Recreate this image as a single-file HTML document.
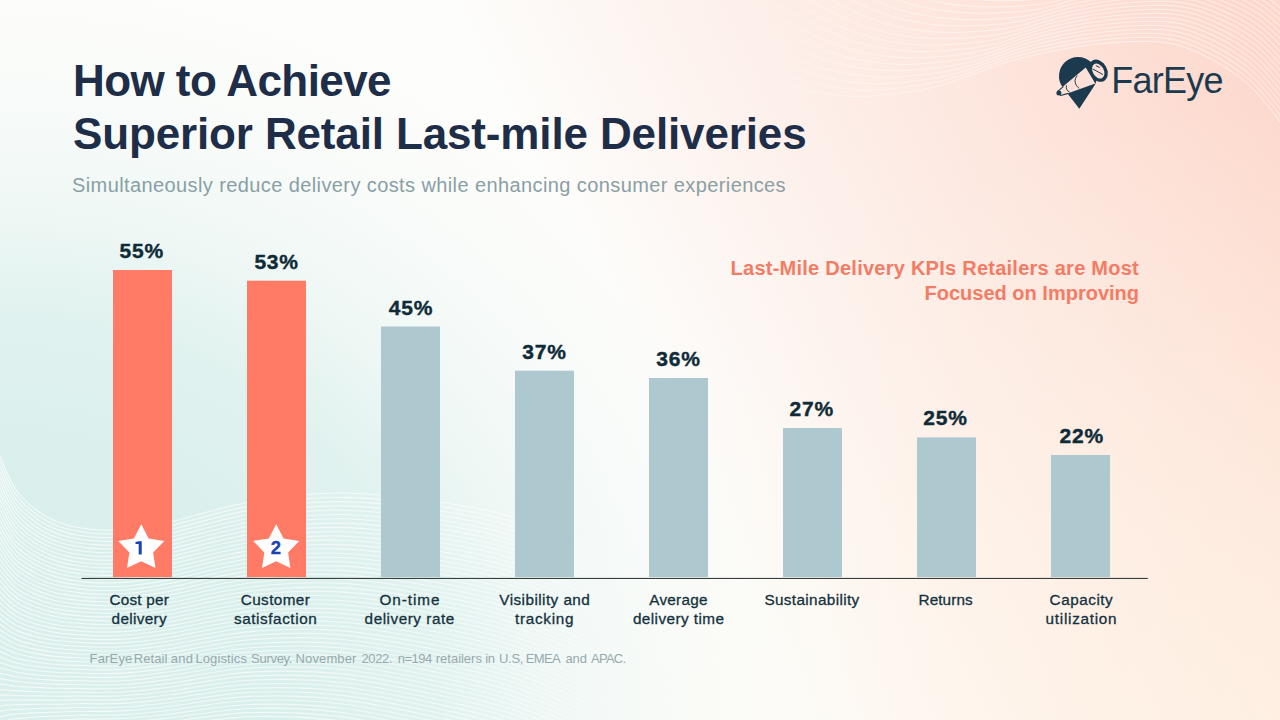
<!DOCTYPE html>
<html lang="en">
<head>
<meta charset="utf-8">
<title>How to Achieve Superior Retail Last-mile Deliveries</title>
<style>
  html, body { margin: 0; padding: 0; background: #fdfdfb; }
  body { width: 1280px; height: 720px; overflow: hidden; }
  #page {
    width: 1280px; height: 720px; overflow: hidden; position: relative;
    font-family: "Liberation Sans", sans-serif;
    background:
      radial-gradient(ellipse 700px 620px at 100% 100%, rgba(255,244,228,0.65) 0%, rgba(255,244,228,0) 100%),
      linear-gradient(63.4deg, rgba(253,216,204,0) 49.4%, rgba(253,216,204,1) 97.6%),
      radial-gradient(ellipse 800px 740px at 0% 100%, rgba(198,232,228,0.63) 0%, rgba(198,232,228,0.63) 36%, rgba(198,232,228,0.52) 55%, rgba(198,232,228,0.26) 69%, rgba(198,232,228,0.09) 84%, rgba(198,232,228,0) 100%),
      #fdfdfb;
  }
  .abs { position: absolute; white-space: nowrap; }
  .t1, .t2 { left: 73px; font-weight: bold; font-size: 44px; line-height: 50px; color: #1e2d48; }
  .t1 { top: 55.75px; letter-spacing: -0.57px; }
  .t2 { top: 109.15px; letter-spacing: -0.14px; }
  .sub { left: 72px; top: 173px; font-size: 20px; line-height: 24px; color: #8a9fa4; letter-spacing: 0.4px; }
  .kh { right: 141px; text-align: right; font-weight: bold; font-size: 20px; line-height: 25.5px; color: #f37c65; top: 255.7px; }
  .val { position: absolute; width: 120px; text-align: center; font-weight: bold; font-size: 21px; line-height: 24px; color: #0f2b38; letter-spacing: 0.8px; -webkit-text-stroke: 0.4px #0f2b38; }
  .cl { position: absolute; white-space: nowrap; font-size: 15.3px; line-height: 19px; color: #14313d; -webkit-text-stroke: 0.3px #14313d; }
  .foot { position: absolute; left: 0; top: 651.05px; font-size: 13.0px; line-height: 16px; color: #97a9ac; }
  .foot span { position: absolute; top: 0; white-space: nowrap; }
  .logo-t { left: 1111.2px; top: 60.3px; font-size: 36px; line-height: 42px; color: #1c3a4d; letter-spacing: -0.75px; }
  svg { position: absolute; left: 0; top: 0; }
</style>
</head>
<body>
<div id="page">

<svg id="waves" width="1280" height="720" viewBox="0 0 1280 720" fill="none">
<defs>
<linearGradient id="gtr" gradientUnits="userSpaceOnUse" x1="640" y1="0" x2="1280" y2="0"><stop offset="0" stop-color="#fff" stop-opacity="0"/><stop offset="0.35" stop-color="#fff" stop-opacity="0.4"/><stop offset="1" stop-color="#fff" stop-opacity="0.7"/></linearGradient>
<linearGradient id="gbl" gradientUnits="userSpaceOnUse" x1="0" y1="0" x2="720" y2="0"><stop offset="0" stop-color="#fff" stop-opacity="0.7"/><stop offset="0.65" stop-color="#fff" stop-opacity="0.6"/><stop offset="1" stop-color="#fff" stop-opacity="0"/></linearGradient>
</defs>
<g stroke="url(#gtr)" stroke-width="1">
<path d="M620 -10C633.3 -1.3 673.3 26.7 700 42C726.7 57.3 755.8 73 780 82C804.2 91 825 94.2 845 96C865 97.8 883.3 95 900 93C916.7 91 925.8 89.5 945 84C964.2 78.5 990.8 66.5 1015 60C1039.2 53.5 1065.8 48 1090 45C1114.2 42 1140.8 40.2 1160 42C1179.2 43.8 1190 48.7 1205 56C1220 63.3 1236.2 73.3 1250 86C1263.8 98.7 1281.7 124.3 1288 132"/>
<path d="M635.6 -12.2C648.4 -3.9 687 23 712.8 37.7C738.5 52.4 766.5 67.4 790 76C813.5 84.6 834 87.8 853.6 89.6C873.2 91.4 891.3 88.7 907.8 86.8C924.2 84.9 933.5 83.5 952.2 78.2C971 73 996.8 61.5 1020.3 55.2C1043.8 49 1069.8 43.7 1093.3 40.8C1116.9 38 1142.9 36.2 1161.7 38C1180.5 39.8 1191.3 44.5 1206.1 51.7C1220.9 58.8 1237 68.6 1250.7 80.9C1264.4 93.2 1282 118.2 1288.2 125.7"/>
<path d="M651.1 -14.4C663.5 -6.5 700.7 19.3 725.6 33.3C750.4 47.4 777.2 61.7 800 70C822.8 78.3 843 81.3 862.2 83.1C881.5 84.9 899.4 82.4 915.6 80.7C931.8 78.9 941.1 77.5 959.4 72.4C977.8 67.4 1002.7 56.4 1025.6 50.4C1048.4 44.5 1073.7 39.4 1096.7 36.7C1119.6 33.9 1144.9 32.2 1163.3 34C1181.8 35.8 1192.6 40.4 1207.2 47.3C1221.9 54.3 1237.8 63.8 1251.3 75.8C1264.9 87.8 1282.3 112.1 1288.4 119.3"/>
<path d="M666.7 -16.7C678.6 -9.1 714.4 15.6 738.3 29C762.2 42.4 787.9 56.1 810 64C832.1 71.9 851.9 74.9 870.8 76.7C889.7 78.4 907.4 76.2 923.3 74.5C939.3 72.8 948.8 71.5 966.7 66.7C984.6 61.9 1008.6 51.4 1030.8 45.7C1053.1 40 1077.6 35.1 1100 32.5C1122.4 29.9 1146.9 28.2 1165 30C1183.1 31.8 1193.8 36.2 1208.3 43C1222.8 49.8 1238.6 59 1252 70.7C1265.4 82.3 1282.6 105.9 1288.7 113"/>
<path d="M682.2 -18.9C693.7 -11.6 728.1 11.9 751.1 24.7C774.1 37.5 798.6 50.4 820 58C841.4 65.6 860.9 68.5 879.4 70.2C898 71.9 915.4 69.9 931.1 68.3C946.9 66.8 956.4 65.5 973.9 60.9C991.4 56.3 1014.5 46.3 1036.1 40.9C1057.7 35.5 1081.6 30.8 1103.3 28.3C1125.1 25.9 1149 24.3 1166.7 26C1184.4 27.7 1195.1 32.1 1209.4 38.7C1223.8 45.3 1239.4 54.2 1252.7 65.6C1265.9 76.9 1282.9 99.8 1288.9 106.7"/>
<path d="M697.8 -21.1C708.8 -14.2 741.9 8.1 763.9 20.3C785.9 32.5 809.3 44.8 830 52C850.7 59.2 869.9 62.1 888.1 63.8C906.2 65.5 923.4 63.6 938.9 62.2C954.4 60.7 964 59.5 981.1 55.1C998.2 50.8 1020.5 41.3 1041.4 36.1C1062.3 31 1085.5 26.5 1106.7 24.2C1127.8 21.8 1151 20.3 1168.3 22C1185.6 23.7 1196.4 27.9 1210.6 34.3C1224.7 40.7 1240.2 49.4 1253.3 60.4C1266.4 71.4 1283.1 93.7 1289.1 100.3"/>
<path d="M713.3 -23.3C723.9 -16.8 755.6 4.4 776.7 16C797.8 27.6 820 39.1 840 46C860 52.9 878.9 55.7 896.7 57.3C914.4 59 931.4 57.3 946.7 56C961.9 54.7 971.7 53.4 988.3 49.3C1005 45.2 1026.4 36.2 1046.7 31.3C1066.9 26.4 1089.4 22.2 1110 20C1130.6 17.8 1153.1 16.3 1170 18C1186.9 19.7 1197.7 23.8 1211.7 30C1225.7 36.2 1241.1 44.7 1254 55.3C1266.9 66 1283.4 87.6 1289.3 94"/>
<path d="M728.9 -25.6C739 -19.4 769.3 0.7 789.4 11.7C809.6 22.6 830.7 33.5 850 40C869.3 46.5 887.9 49.2 905.3 50.9C922.7 52.5 939.4 51.1 954.4 49.8C969.5 48.6 979.3 47.4 995.6 43.6C1011.8 39.7 1032.3 31.2 1051.9 26.6C1071.6 21.9 1093.4 17.9 1113.3 15.8C1133.3 13.7 1155.1 12.4 1171.7 14C1188.2 15.6 1198.9 19.6 1212.8 25.7C1226.6 31.7 1241.9 39.9 1254.7 50.2C1267.5 60.6 1283.7 81.4 1289.6 87.7"/>
<path d="M744.4 -27.8C754.1 -21.9 783 -3 802.2 7.3C821.5 17.6 841.4 27.8 860 34C878.6 40.2 896.9 42.8 913.9 44.4C930.9 46.1 947.4 44.8 962.2 43.7C977 42.6 986.9 41.4 1002.8 37.8C1018.6 34.1 1038.2 26.1 1057.2 21.8C1076.2 17.4 1097.3 13.6 1116.7 11.7C1136 9.7 1157.1 8.4 1173.3 10C1189.5 11.6 1200.2 15.5 1213.9 21.3C1227.6 27.2 1242.7 35.1 1255.3 45.1C1268 55.1 1284 75.3 1289.8 81.3"/>
<path d="M760 -30C769.2 -24.5 796.7 -6.7 815 3C833.3 12.7 852.1 22.2 870 28C887.9 33.8 905.8 36.4 922.5 38C939.2 39.6 955.4 38.5 970 37.5C984.6 36.5 994.6 35.4 1010 32C1025.4 28.6 1044.2 21.1 1062.5 17C1080.8 12.9 1101.2 9.3 1120 7.5C1138.8 5.7 1159.2 4.4 1175 6C1190.8 7.6 1201.5 11.3 1215 17C1228.5 22.7 1243.5 30.3 1256 40C1268.5 49.7 1284.3 69.2 1290 75"/>
<path d="M775.6 -32.2C784.3 -27.1 810.4 -10.4 827.8 -1.3C845.2 7.7 862.8 16.5 880 22C897.2 27.5 914.8 30 931.1 31.6C947.4 33.1 963.4 32.2 977.8 31.3C992.1 30.4 1002.2 29.4 1017.2 26.2C1032.2 23 1050.1 16 1067.8 12.2C1085.5 8.4 1105.2 5 1123.3 3.3C1141.5 1.6 1161.2 0.4 1176.7 2C1192.1 3.6 1202.8 7.2 1216.1 12.7C1229.4 18.1 1244.3 25.6 1256.7 34.9C1269 44.2 1284.6 63 1290.2 68.7"/>
<path d="M791.1 -34.4C799.4 -29.6 824.1 -14.1 840.6 -5.7C857 2.7 873.5 10.9 890 16C906.5 21.1 923.8 23.6 939.7 25.1C955.6 26.6 971.4 25.9 985.6 25.2C999.7 24.4 1009.9 23.4 1024.4 20.4C1039 17.5 1056 11 1073.1 7.4C1090.1 3.9 1109.1 0.7 1126.7 -0.8C1144.2 -2.4 1163.2 -3.5 1178.3 -2C1193.4 -0.5 1204.1 3 1217.2 8.3C1230.4 13.6 1245.1 20.8 1257.3 29.8C1269.5 38.8 1284.9 56.9 1290.4 62.3"/>
<path d="M806.7 -36.7C814.4 -32.2 837.8 -17.8 853.3 -10C868.9 -2.2 884.2 5.2 900 10C915.8 14.8 932.8 17.2 948.3 18.7C963.9 20.2 979.4 19.7 993.3 19C1007.2 18.3 1017.5 17.4 1031.7 14.7C1045.8 11.9 1061.9 5.9 1078.3 2.7C1094.7 -0.6 1113.1 -3.6 1130 -5C1146.9 -6.4 1165.3 -7.5 1180 -6C1194.7 -4.5 1205.3 -1.1 1218.3 4C1231.3 9.1 1245.9 16 1258 24.7C1270.1 33.3 1285.2 50.8 1290.7 56"/>
<path d="M822.2 -38.9C829.5 -34.8 851.5 -21.5 866.1 -14.3C880.7 -7.2 894.9 -0.4 910 4C925.1 8.4 941.8 10.8 956.9 12.2C972.1 13.7 987.5 13.4 1001.1 12.8C1014.8 12.3 1025.1 11.4 1038.9 8.9C1052.6 6.4 1067.9 0.9 1083.6 -2.1C1099.4 -5.1 1117 -7.9 1133.3 -9.2C1149.7 -10.5 1167.3 -11.5 1181.7 -10C1196 -8.5 1206.6 -5.3 1219.4 -0.3C1232.3 4.6 1246.8 11.2 1258.7 19.6C1270.6 27.9 1285.5 44.6 1290.9 49.7"/>
<path d="M837.8 -41.1C844.6 -37.4 865.2 -25.2 878.9 -18.7C892.6 -12.1 905.6 -6.1 920 -2C934.4 2.1 950.7 4.3 965.6 5.8C980.4 7.2 995.5 7.1 1008.9 6.7C1022.3 6.2 1032.8 5.4 1046.1 3.1C1059.4 0.9 1073.8 -4.1 1088.9 -6.9C1104 -9.6 1120.9 -12.1 1136.7 -13.3C1152.4 -14.5 1169.4 -15.4 1183.3 -14C1197.3 -12.6 1207.9 -9.4 1220.6 -4.7C1233.2 0.1 1247.6 6.4 1259.3 14.4C1271.1 22.4 1285.8 38.5 1291.1 43.3"/>
<path d="M853.3 -43.3C859.7 -39.9 878.9 -28.9 891.7 -23C904.4 -17.1 916.2 -11.7 930 -8C943.8 -4.3 959.7 -2.1 974.2 -0.7C988.6 0.7 1003.5 0.8 1016.7 0.5C1029.9 0.2 1040.4 -0.6 1053.3 -2.7C1066.2 -4.7 1079.7 -9.2 1094.2 -11.7C1108.6 -14.1 1124.9 -16.4 1140 -17.5C1155.1 -18.6 1171.4 -19.4 1185 -18C1198.6 -16.6 1209.2 -13.6 1221.7 -9C1234.2 -4.4 1248.4 1.7 1260 9.3C1271.6 17 1286.1 32.4 1291.3 37"/>
<path d="M868.9 -45.6C874.8 -42.5 892.6 -32.6 904.4 -27.3C916.3 -22.1 926.9 -17.4 940 -14C953.1 -10.6 968.7 -8.5 982.8 -7.1C996.9 -5.7 1011.5 -5.4 1024.4 -5.7C1037.4 -5.9 1048.1 -6.6 1060.6 -8.4C1073.1 -10.2 1085.6 -14.2 1099.4 -16.4C1113.2 -18.6 1128.8 -20.7 1143.3 -21.7C1157.9 -22.6 1173.4 -23.4 1186.7 -22C1199.9 -20.6 1210.4 -17.7 1222.8 -13.3C1235.1 -9 1249.2 -3.1 1260.7 4.2C1272.1 11.6 1286.4 26.3 1291.6 30.7"/>
<path d="M884.4 -47.8C889.9 -45.1 906.3 -36.3 917.2 -31.7C928.1 -27 937.6 -23 950 -20C962.4 -17 977.7 -14.9 991.4 -13.6C1005.1 -12.2 1019.5 -11.7 1032.2 -11.8C1045 -11.9 1055.7 -12.7 1067.8 -14.2C1079.9 -15.8 1091.6 -19.3 1104.7 -21.2C1117.9 -23.2 1132.7 -25 1146.7 -25.8C1160.6 -26.6 1175.5 -27.4 1188.3 -26C1201.2 -24.6 1211.7 -21.9 1223.9 -17.7C1236.1 -13.5 1250 -7.9 1261.3 -0.9C1272.6 6.1 1286.7 20.1 1291.8 24.3"/>
<path d="M900 -50C905 -47.7 920 -40 930 -36C940 -32 948.3 -28.7 960 -26C971.7 -23.3 986.7 -21.3 1000 -20C1013.3 -18.7 1027.5 -18 1040 -18C1052.5 -18 1063.3 -18.7 1075 -20C1086.7 -21.3 1097.5 -24.3 1110 -26C1122.5 -27.7 1136.7 -29.3 1150 -30C1163.3 -30.7 1177.5 -31.3 1190 -30C1202.5 -28.7 1213 -26 1225 -22C1237 -18 1250.8 -12.7 1262 -6C1273.2 0.7 1287 14 1292 18"/>
</g>
<g stroke="url(#gbl)" stroke-width="1.15">
<path d="M-6 440C-3.7 445.8 3.8 466 8 475C12.2 484 13.8 487.8 19 494C24.2 500.2 32.5 507.3 39 512C45.5 516.7 51.5 519.4 58 522C64.5 524.6 70.8 526.2 78 527.5C85.2 528.8 92.3 529.8 101 530C109.7 530.2 118.5 530.3 130 529C141.5 527.7 150 526.5 170 522C190 517.5 221.7 506.8 250 502C278.3 497.2 308.3 493 340 493C371.7 493 410 497.7 440 502C470 506.3 493.3 511.3 520 519C546.7 526.7 576.7 535.8 600 548C623.3 560.2 641.3 574.2 660 592C678.7 609.8 703.3 644.5 712 655"/>
<path d="M-6 445.8C-3.7 451.5 3.8 471.2 8 480C12.2 488.8 13.8 492.6 19 498.6C24.2 504.6 32.5 511.6 39 516.2C45.5 520.7 51.5 523.4 58 526C64.5 528.5 70.8 530 78 531.3C85.2 532.6 92.3 533.5 101 533.8C109.7 534 118.5 534.1 130 532.8C141.5 531.5 150 530.3 170 525.8C190 521.4 221.7 510.8 250 506.1C278.3 501.3 308.3 497.2 340 497.3C371.7 497.4 410 502.1 440 506.5C470 510.9 493.3 515.9 520 523.6C546.7 531.3 576.7 540.6 600 552.8C623.3 565 641.3 579.1 660 597C678.7 614.9 703.3 649.7 712 660.2"/>
<path d="M-6 451.6C-3.7 457.2 3.8 476.4 8 485C12.2 493.6 13.8 497.3 19 503.2C24.2 509.1 32.5 515.9 39 520.4C45.5 524.8 51.5 527.5 58 529.9C64.5 532.4 70.8 533.9 78 535.2C85.2 536.4 92.3 537.3 101 537.6C109.7 537.8 118.5 537.9 130 536.6C141.5 535.2 150 534.1 170 529.7C190 525.3 221.7 514.8 250 510.1C278.3 505.4 308.3 501.5 340 501.6C371.7 501.8 410 506.6 440 511C470 515.4 493.3 520.4 520 528.2C546.7 536 576.7 545.3 600 557.6C623.3 569.9 641.3 584 660 602C678.7 620 703.3 654.8 712 665.4"/>
<path d="M-6 457.4C-3.7 462.8 3.8 481.6 8 490C12.2 498.4 13.8 502 19 507.7C24.2 513.5 32.5 520.2 39 524.5C45.5 528.9 51.5 531.5 58 533.9C64.5 536.3 70.8 537.7 78 539C85.2 540.2 92.3 541.1 101 541.3C109.7 541.6 118.5 541.6 130 540.3C141.5 539 150 537.9 170 533.5C190 529.2 221.7 518.8 250 514.1C278.3 509.5 308.3 505.7 340 505.9C371.7 506.1 410 511 440 515.5C470 520 493.3 525 520 532.8C546.7 540.6 576.7 550 600 562.4C623.3 574.8 641.3 589 660 607C678.7 625 703.3 660 712 670.6"/>
<path d="M-6 463.2C-3.7 468.5 3.8 486.8 8 495C12.2 503.2 13.8 506.7 19 512.3C24.2 517.9 32.5 524.5 39 528.7C45.5 533 51.5 535.5 58 537.8C64.5 540.2 70.8 541.6 78 542.8C85.2 544 92.3 544.9 101 545.1C109.7 545.3 118.5 545.4 130 544.1C141.5 542.8 150 541.7 170 537.4C190 533 221.7 522.7 250 518.2C278.3 513.7 308.3 509.9 340 510.2C371.7 510.5 410 515.5 440 520C470 524.5 493.3 529.5 520 537.4C546.7 545.3 576.7 554.8 600 567.2C623.3 579.6 641.3 593.9 660 612C678.7 630.1 703.3 665.2 712 675.8"/>
<path d="M-6 469C-3.7 474.2 3.8 492 8 500C12.2 508 13.8 511.4 19 516.9C24.2 522.4 32.5 528.8 39 532.9C45.5 537 51.5 539.5 58 541.8C64.5 544.1 70.8 545.5 78 546.6C85.2 547.8 92.3 548.7 101 548.9C109.7 549.1 118.5 549.2 130 547.9C141.5 546.6 150 545.5 170 541.2C190 536.9 221.7 526.7 250 522.2C278.3 517.8 308.3 514.1 340 514.5C371.7 514.9 410 519.9 440 524.5C470 529.1 493.3 534.1 520 542C546.7 549.9 576.7 559.5 600 572C623.3 584.5 641.3 598.8 660 617C678.7 635.2 703.3 670.3 712 681"/>
<path d="M-6 474.8C-3.7 479.8 3.8 497.2 8 505C12.2 512.8 13.8 516.1 19 521.5C24.2 526.8 32.5 533 39 537.1C45.5 541.1 51.5 543.5 58 545.8C64.5 548 70.8 549.3 78 550.5C85.2 551.6 92.3 552.5 101 552.7C109.7 552.9 118.5 553 130 551.7C141.5 550.4 150 549.3 170 545C190 540.8 221.7 530.7 250 526.3C278.3 521.9 308.3 518.3 340 518.8C371.7 519.2 410 524.4 440 529C470 533.6 493.3 538.6 520 546.6C546.7 554.6 576.7 564.2 600 576.8C623.3 589.4 641.3 603.8 660 622C678.7 640.2 703.3 675.5 712 686.2"/>
<path d="M-6 480.6C-3.7 485.5 3.8 502.4 8 510C12.2 517.6 13.8 520.8 19 526.1C24.2 531.3 32.5 537.3 39 541.3C45.5 545.2 51.5 547.5 58 549.7C64.5 551.9 70.8 553.2 78 554.3C85.2 555.4 92.3 556.3 101 556.5C109.7 556.7 118.5 556.7 130 555.5C141.5 554.2 150 553.1 170 548.9C190 544.7 221.7 534.6 250 530.4C278.3 526.1 308.3 522.6 340 523.1C371.7 523.6 410 528.8 440 533.5C470 538.2 493.3 543.2 520 551.2C546.7 559.2 576.7 569 600 581.6C623.3 594.2 641.3 608.7 660 627C678.7 645.3 703.3 680.7 712 691.4"/>
<path d="M-6 486.4C-3.7 491.2 3.8 507.6 8 515C12.2 522.4 13.8 525.6 19 530.6C24.2 535.7 32.5 541.6 39 545.4C45.5 549.3 51.5 551.6 58 553.7C64.5 555.8 70.8 557 78 558.1C85.2 559.2 92.3 560.1 101 560.2C109.7 560.4 118.5 560.5 130 559.2C141.5 558 150 556.9 170 552.7C190 548.6 221.7 538.6 250 534.4C278.3 530.2 308.3 526.8 340 527.4C371.7 528 410 533.3 440 538C470 542.7 493.3 547.7 520 555.8C546.7 563.9 576.7 573.7 600 586.4C623.3 599.1 641.3 613.6 660 632C678.7 650.4 703.3 685.8 712 696.6"/>
<path d="M-6 492.2C-3.7 496.8 3.8 512.8 8 520C12.2 527.2 13.8 530.3 19 535.2C24.2 540.2 32.5 545.9 39 549.6C45.5 553.4 51.5 555.6 58 557.6C64.5 559.7 70.8 560.9 78 562C85.2 563 92.3 563.8 101 564C109.7 564.2 118.5 564.3 130 563C141.5 561.8 150 560.7 170 556.6C190 552.5 221.7 542.6 250 538.5C278.3 534.3 308.3 531 340 531.7C371.7 532.4 410 537.7 440 542.5C470 547.3 493.3 552.3 520 560.4C546.7 568.5 576.7 578.4 600 591.2C623.3 604 641.3 618.6 660 637C678.7 655.4 703.3 691 712 701.8"/>
<path d="M-6 498C-3.7 502.5 3.8 518 8 525C12.2 532 13.8 535 19 539.8C24.2 544.6 32.5 550.2 39 553.8C45.5 557.4 51.5 559.6 58 561.6C64.5 563.6 70.8 564.8 78 565.8C85.2 566.8 92.3 567.6 101 567.8C109.7 568 118.5 568 130 566.8C141.5 565.6 150 564.4 170 560.4C190 556.4 221.7 546.6 250 542.5C278.3 538.4 308.3 535.2 340 536C371.7 536.8 410 542.2 440 547C470 551.8 493.3 556.8 520 565C546.7 573.2 576.7 583.2 600 596C623.3 608.8 641.3 623.5 660 642C678.7 660.5 703.3 696.2 712 707"/>
<path d="M-6 503.8C-3.7 508.2 3.8 523.2 8 530C12.2 536.8 13.8 539.7 19 544.4C24.2 549 32.5 554.5 39 558C45.5 561.5 51.5 563.6 58 565.6C64.5 567.5 70.8 568.6 78 569.6C85.2 570.6 92.3 571.4 101 571.6C109.7 571.7 118.5 571.8 130 570.6C141.5 569.4 150 568.2 170 564.2C190 560.2 221.7 550.5 250 546.5C278.3 542.6 308.3 539.5 340 540.3C371.7 541.1 410 546.6 440 551.5C470 556.4 493.3 561.4 520 569.6C546.7 577.8 576.7 587.9 600 600.8C623.3 613.7 641.3 628.4 660 647C678.7 665.6 703.3 701.3 712 712.2"/>
<path d="M-6 509.6C-3.7 513.8 3.8 528.4 8 535C12.2 541.6 13.8 544.4 19 549C24.2 553.5 32.5 558.7 39 562.2C45.5 565.6 51.5 567.6 58 569.5C64.5 571.4 70.8 572.5 78 573.5C85.2 574.4 92.3 575.2 101 575.4C109.7 575.5 118.5 575.6 130 574.4C141.5 573.1 150 572 170 568.1C190 564.1 221.7 554.5 250 550.6C278.3 546.7 308.3 543.7 340 544.6C371.7 545.5 410 551.1 440 556C470 560.9 493.3 565.9 520 574.2C546.7 582.5 576.7 592.6 600 605.6C623.3 618.6 641.3 633.4 660 652C678.7 670.6 703.3 706.5 712 717.4"/>
<path d="M-6 515.4C-3.7 519.5 3.8 533.6 8 540C12.2 546.4 13.8 549.1 19 553.5C24.2 557.9 32.5 563 39 566.3C45.5 569.7 51.5 571.7 58 573.5C64.5 575.3 70.8 576.3 78 577.3C85.2 578.2 92.3 579 101 579.1C109.7 579.3 118.5 579.3 130 578.1C141.5 576.9 150 575.8 170 571.9C190 568 221.7 558.5 250 554.6C278.3 550.8 308.3 547.9 340 548.9C371.7 549.9 410 555.5 440 560.5C470 565.5 493.3 570.5 520 578.8C546.7 587.1 576.7 597.4 600 610.4C623.3 623.4 641.3 638.3 660 657C678.7 675.7 703.3 711.7 712 722.6"/>
<path d="M-6 521.2C-3.7 525.2 3.8 538.8 8 545C12.2 551.2 13.8 553.9 19 558.1C24.2 562.4 32.5 567.3 39 570.5C45.5 573.7 51.5 575.7 58 577.4C64.5 579.2 70.8 580.2 78 581.1C85.2 582 92.3 582.8 101 582.9C109.7 583.1 118.5 583.1 130 581.9C141.5 580.7 150 579.6 170 575.8C190 571.9 221.7 562.5 250 558.7C278.3 554.9 308.3 552.2 340 553.2C371.7 554.2 410 560 440 565C470 570 493.3 575 520 583.4C546.7 591.8 576.7 602.1 600 615.2C623.3 628.3 641.3 643.2 660 662C678.7 680.8 703.3 716.8 712 727.8"/>
<path d="M-6 527C-3.7 530.8 3.8 544 8 550C12.2 556 13.8 558.6 19 562.7C24.2 566.8 32.5 571.6 39 574.7C45.5 577.8 51.5 579.7 58 581.4C64.5 583.1 70.8 584.1 78 585C85.2 585.8 92.3 586.6 101 586.7C109.7 586.8 118.5 586.9 130 585.7C141.5 584.5 150 583.4 170 579.6C190 575.8 221.7 566.4 250 562.8C278.3 559.1 308.3 556.4 340 557.5C371.7 558.6 410 564.4 440 569.5C470 574.6 493.3 579.6 520 588C546.7 596.4 576.7 606.8 600 620C623.3 633.2 641.3 648.2 660 667C678.7 685.8 703.3 722 712 733"/>
<path d="M-6 532.8C-3.7 536.5 3.8 549.3 8 555C12.2 560.7 13.8 563.3 19 567.3C24.2 571.3 32.5 575.9 39 578.9C45.5 581.9 51.5 583.7 58 585.4C64.5 587 70.8 587.9 78 588.8C85.2 589.6 92.3 590.4 101 590.5C109.7 590.6 118.5 590.7 130 589.5C141.5 588.3 150 587.2 170 583.4C190 579.7 221.7 570.4 250 566.8C278.3 563.2 308.3 560.6 340 561.8C371.7 563 410 568.9 440 574C470 579.1 493.3 584.1 520 592.6C546.7 601.1 576.7 611.6 600 624.8C623.3 638 641.3 653.1 660 672C678.7 690.9 703.3 727.2 712 738.2"/>
<path d="M-6 538.6C-3.7 542.2 3.8 554.5 8 560C12.2 565.5 13.8 568 19 571.9C24.2 575.7 32.5 580.1 39 583.1C45.5 586 51.5 587.7 58 589.3C64.5 590.9 70.8 591.8 78 592.6C85.2 593.4 92.3 594.2 101 594.3C109.7 594.4 118.5 594.4 130 593.3C141.5 592.1 150 591 170 587.3C190 583.5 221.7 574.4 250 570.9C278.3 567.3 308.3 564.8 340 566.1C371.7 567.4 410 573.3 440 578.5C470 583.7 493.3 588.7 520 597.2C546.7 605.7 576.7 616.3 600 629.6C623.3 642.9 641.3 658 660 677C678.7 696 703.3 732.3 712 743.4"/>
<path d="M-6 544.4C-3.7 547.8 3.8 559.7 8 565C12.2 570.3 13.8 572.7 19 576.4C24.2 580.1 32.5 584.4 39 587.2C45.5 590 51.5 591.7 58 593.3C64.5 594.8 70.8 595.6 78 596.4C85.2 597.2 92.3 597.9 101 598C109.7 598.1 118.5 598.2 130 597C141.5 595.9 150 594.8 170 591.1C190 587.4 221.7 578.4 250 574.9C278.3 571.4 308.3 569 340 570.4C371.7 571.8 410 577.8 440 583C470 588.2 493.3 593.2 520 601.8C546.7 610.4 576.7 621 600 634.4C623.3 647.8 641.3 663 660 682C678.7 701 703.3 737.5 712 748.6"/>
<path d="M-6 550.2C-3.7 553.5 3.8 564.9 8 570C12.2 575.1 13.8 577.5 19 581C24.2 584.6 32.5 588.7 39 591.4C45.5 594.1 51.5 595.8 58 597.2C64.5 598.7 70.8 599.5 78 600.3C85.2 601 92.3 601.7 101 601.8C109.7 601.9 118.5 602 130 600.8C141.5 599.7 150 598.6 170 595C190 591.3 221.7 582.3 250 579C278.3 575.6 308.3 573.3 340 574.7C371.7 576.1 410 582.2 440 587.5C470 592.8 493.3 597.8 520 606.4C546.7 615 576.7 625.8 600 639.2C623.3 652.6 641.3 667.9 660 687C678.7 706.1 703.3 742.7 712 753.8"/>
<path d="M-6 556C-3.7 559.2 3.8 570.1 8 575C12.2 579.9 13.8 582.2 19 585.6C24.2 589 32.5 593 39 595.6C45.5 598.2 51.5 599.8 58 601.2C64.5 602.6 70.8 603.4 78 604.1C85.2 604.8 92.3 605.5 101 605.6C109.7 605.7 118.5 605.7 130 604.6C141.5 603.5 150 602.4 170 598.8C190 595.2 221.7 586.3 250 583C278.3 579.7 308.3 577.5 340 579C371.7 580.5 410 586.7 440 592C470 597.3 493.3 602.3 520 611C546.7 619.7 576.7 630.5 600 644C623.3 657.5 641.3 672.8 660 692C678.7 711.2 703.3 747.8 712 759"/>
<path d="M-6 561.8C-3.7 564.8 3.8 575.3 8 580C12.2 584.7 13.8 586.9 19 590.2C24.2 593.5 32.5 597.3 39 599.8C45.5 602.3 51.5 603.8 58 605.2C64.5 606.5 70.8 607.2 78 607.9C85.2 608.6 92.3 609.3 101 609.4C109.7 609.5 118.5 609.5 130 608.4C141.5 607.3 150 606.2 170 602.6C190 599.1 221.7 590.3 250 587C278.3 583.8 308.3 581.7 340 583.3C371.7 584.9 410 591.1 440 596.5C470 601.9 493.3 606.9 520 615.6C546.7 624.3 576.7 635.2 600 648.8C623.3 662.4 641.3 677.8 660 697C678.7 716.2 703.3 753 712 764.2"/>
<path d="M-6 567.6C-3.7 570.5 3.8 580.5 8 585C12.2 589.5 13.8 591.6 19 594.8C24.2 597.9 32.5 601.6 39 604C45.5 606.4 51.5 607.8 58 609.1C64.5 610.4 70.8 611.1 78 611.8C85.2 612.4 92.3 613.1 101 613.2C109.7 613.2 118.5 613.3 130 612.2C141.5 611 150 610 170 606.5C190 603 221.7 594.2 250 591.1C278.3 588 308.3 586 340 587.6C371.7 589.2 410 595.6 440 601C470 606.4 493.3 611.4 520 620.2C546.7 629 576.7 640 600 653.6C623.3 667.2 641.3 682.7 660 702C678.7 721.3 703.3 758.2 712 769.4"/>
<path d="M-6 573.4C-3.7 576.2 3.8 585.7 8 590C12.2 594.3 13.8 596.3 19 599.3C24.2 602.4 32.5 605.9 39 608.1C45.5 610.4 51.5 611.8 58 613.1C64.5 614.3 70.8 614.9 78 615.6C85.2 616.2 92.3 616.9 101 616.9C109.7 617 118.5 617 130 615.9C141.5 614.8 150 613.8 170 610.3C190 606.9 221.7 598.2 250 595.1C278.3 592.1 308.3 590.2 340 591.9C371.7 593.6 410 600 440 605.5C470 611 493.3 616 520 624.8C546.7 633.6 576.7 644.7 600 658.4C623.3 672.1 641.3 687.6 660 707C678.7 726.4 703.3 763.3 712 774.6"/>
<path d="M-6 579.2C-3.7 581.8 3.8 590.9 8 595C12.2 599.1 13.8 601 19 603.9C24.2 606.8 32.5 610.1 39 612.3C45.5 614.5 51.5 615.9 58 617C64.5 618.2 70.8 618.8 78 619.4C85.2 620 92.3 620.7 101 620.7C109.7 620.8 118.5 620.8 130 619.7C141.5 618.6 150 617.6 170 614.2C190 610.7 221.7 602.2 250 599.2C278.3 596.2 308.3 594.4 340 596.2C371.7 598 410 604.5 440 610C470 615.5 493.3 620.5 520 629.4C546.7 638.3 576.7 649.4 600 663.2C623.3 677 641.3 692.6 660 712C678.7 731.4 703.3 768.5 712 779.8"/>
<path d="M-6 585C-3.7 587.5 3.8 596.1 8 600C12.2 603.9 13.8 605.8 19 608.5C24.2 611.2 32.5 614.4 39 616.5C45.5 618.6 51.5 619.9 58 621C64.5 622.1 70.8 622.7 78 623.2C85.2 623.8 92.3 624.5 101 624.5C109.7 624.5 118.5 624.6 130 623.5C141.5 622.4 150 621.4 170 618C190 614.6 221.7 606.2 250 603.2C278.3 600.3 308.3 598.6 340 600.5C371.7 602.4 410 608.9 440 614.5C470 620.1 493.3 625.1 520 634C546.7 642.9 576.7 654.2 600 668C623.3 681.8 641.3 697.5 660 717C678.7 736.5 703.3 773.7 712 785"/>
<path d="M-6 590.8C-3.7 593.2 3.8 601.3 8 605C12.2 608.7 13.8 610.5 19 613.1C24.2 615.7 32.5 618.7 39 620.7C45.5 622.7 51.5 623.9 58 625C64.5 626 70.8 626.5 78 627.1C85.2 627.6 92.3 628.2 101 628.3C109.7 628.3 118.5 628.4 130 627.3C141.5 626.2 150 625.2 170 621.8C190 618.5 221.7 610.1 250 607.3C278.3 604.5 308.3 602.8 340 604.8C371.7 606.8 410 613.4 440 619C470 624.6 493.3 629.6 520 638.6C546.7 647.6 576.7 658.9 600 672.8C623.3 686.7 641.3 702.4 660 722C678.7 741.6 703.3 778.8 712 790.2"/>
<path d="M-6 596.6C-3.7 598.8 3.8 606.5 8 610C12.2 613.5 13.8 615.2 19 617.7C24.2 620.1 32.5 623 39 624.9C45.5 626.7 51.5 627.9 58 628.9C64.5 629.9 70.8 630.4 78 630.9C85.2 631.4 92.3 632 101 632.1C109.7 632.1 118.5 632.1 130 631.1C141.5 630 150 629 170 625.7C190 622.4 221.7 614.1 250 611.4C278.3 608.6 308.3 607.1 340 609.1C371.7 611.1 410 617.8 440 623.5C470 629.2 493.3 634.2 520 643.2C546.7 652.2 576.7 663.6 600 677.6C623.3 691.6 641.3 707.4 660 727C678.7 746.6 703.3 784 712 795.4"/>
<path d="M-6 602.4C-3.7 604.5 3.8 611.7 8 615C12.2 618.3 13.8 619.9 19 622.2C24.2 624.6 32.5 627.3 39 629C45.5 630.8 51.5 631.9 58 632.9C64.5 633.8 70.8 634.2 78 634.7C85.2 635.2 92.3 635.8 101 635.8C109.7 635.9 118.5 635.9 130 634.8C141.5 633.8 150 632.8 170 629.5C190 626.3 221.7 618.1 250 615.4C278.3 612.7 308.3 611.3 340 613.4C371.7 615.5 410 622.3 440 628C470 633.7 493.3 638.7 520 647.8C546.7 656.9 576.7 668.4 600 682.4C623.3 696.4 641.3 712.3 660 732C678.7 751.7 703.3 789.2 712 800.6"/>
<path d="M-6 608.2C-3.7 610.2 3.8 616.9 8 620C12.2 623.1 13.8 624.6 19 626.8C24.2 629 32.5 631.5 39 633.2C45.5 634.9 51.5 635.9 58 636.8C64.5 637.7 70.8 638.1 78 638.6C85.2 639 92.3 639.6 101 639.6C109.7 639.6 118.5 639.7 130 638.6C141.5 637.6 150 636.6 170 633.4C190 630.2 221.7 622.1 250 619.5C278.3 616.8 308.3 615.5 340 617.7C371.7 619.9 410 626.7 440 632.5C470 638.3 493.3 643.3 520 652.4C546.7 661.5 576.7 673.1 600 687.2C623.3 701.3 641.3 717.2 660 737C678.7 756.8 703.3 794.3 712 805.8"/>
<path d="M-6 614C-3.7 615.8 3.8 622.1 8 625C12.2 627.9 13.8 629.3 19 631.4C24.2 633.5 32.5 635.8 39 637.4C45.5 639 51.5 640 58 640.8C64.5 641.6 70.8 642 78 642.4C85.2 642.8 92.3 643.4 101 643.4C109.7 643.4 118.5 643.4 130 642.4C141.5 641.4 150 640.4 170 637.2C190 634.1 221.7 626 250 623.5C278.3 621 308.3 619.8 340 622C371.7 624.2 410 631.2 440 637C470 642.8 493.3 647.8 520 657C546.7 666.2 576.7 677.8 600 692C623.3 706.2 641.3 722.2 660 742C678.7 761.8 703.3 799.5 712 811"/>
<path d="M-6 619.8C-3.7 621.5 3.8 627.3 8 630C12.2 632.7 13.8 634.1 19 636C24.2 637.9 32.5 640.1 39 641.6C45.5 643 51.5 644 58 644.8C64.5 645.5 70.8 645.8 78 646.2C85.2 646.6 92.3 647.2 101 647.2C109.7 647.2 118.5 647.2 130 646.2C141.5 645.2 150 644.1 170 641C190 637.9 221.7 630 250 627.5C278.3 625.1 308.3 624 340 626.3C371.7 628.6 410 635.6 440 641.5C470 647.4 493.3 652.4 520 661.6C546.7 670.8 576.7 682.6 600 696.8C623.3 711 641.3 727.1 660 747C678.7 766.9 703.3 804.7 712 816.2"/>
<path d="M-6 625.6C-3.7 627.2 3.8 632.5 8 635C12.2 637.5 13.8 638.8 19 640.6C24.2 642.4 32.5 644.4 39 645.8C45.5 647.1 51.5 648 58 648.7C64.5 649.4 70.8 649.7 78 650.1C85.2 650.4 92.3 651 101 651C109.7 650.9 118.5 651 130 650C141.5 648.9 150 647.9 170 644.9C190 641.8 221.7 634 250 631.6C278.3 629.2 308.3 628.2 340 630.6C371.7 633 410 640.1 440 646C470 651.9 493.3 656.9 520 666.2C546.7 675.5 576.7 687.3 600 701.6C623.3 715.9 641.3 732 660 752C678.7 772 703.3 809.8 712 821.4"/>
<path d="M-6 631.4C-3.7 632.8 3.8 637.7 8 640C12.2 642.3 13.8 643.5 19 645.1C24.2 646.8 32.5 648.7 39 649.9C45.5 651.2 51.5 652 58 652.7C64.5 653.3 70.8 653.5 78 653.9C85.2 654.2 92.3 654.8 101 654.7C109.7 654.7 118.5 654.7 130 653.7C141.5 652.7 150 651.7 170 648.7C190 645.7 221.7 638 250 635.6C278.3 633.3 308.3 632.4 340 634.9C371.7 637.4 410 644.5 440 650.5C470 656.5 493.3 661.5 520 670.8C546.7 680.1 576.7 692 600 706.4C623.3 720.8 641.3 737 660 757C678.7 777 703.3 815 712 826.6"/>
<path d="M-6 637.2C-3.7 638.5 3.8 642.9 8 645C12.2 647.1 13.8 648.2 19 649.7C24.2 651.2 32.5 653 39 654.1C45.5 655.3 51.5 656 58 656.6C64.5 657.2 70.8 657.4 78 657.7C85.2 658 92.3 658.6 101 658.5C109.7 658.5 118.5 658.5 130 657.5C141.5 656.5 150 655.5 170 652.6C190 649.6 221.7 641.9 250 639.7C278.3 637.5 308.3 636.7 340 639.2C371.7 641.8 410 649 440 655C470 661 493.3 666 520 675.4C546.7 684.8 576.7 696.8 600 711.2C623.3 725.6 641.3 741.9 660 762C678.7 782.1 703.3 820.2 712 831.8"/>
<path d="M-6 643C-3.7 644.2 3.8 648.1 8 650C12.2 651.9 13.8 652.9 19 654.3C24.2 655.7 32.5 657.2 39 658.3C45.5 659.3 51.5 660.1 58 660.6C64.5 661.1 70.8 661.3 78 661.5C85.2 661.8 92.3 662.3 101 662.3C109.7 662.3 118.5 662.3 130 661.3C141.5 660.3 150 659.3 170 656.4C190 653.5 221.7 645.9 250 643.8C278.3 641.6 308.3 640.9 340 643.5C371.7 646.1 410 653.4 440 659.5C470 665.6 493.3 670.6 520 680C546.7 689.4 576.7 701.5 600 716C623.3 730.5 641.3 746.8 660 767C678.7 787.2 703.3 825.3 712 837"/>
<path d="M-6 648.8C-3.7 649.8 3.8 653.3 8 655C12.2 656.7 13.8 657.6 19 658.9C24.2 660.1 32.5 661.5 39 662.5C45.5 663.4 51.5 664.1 58 664.6C64.5 665 70.8 665.1 78 665.4C85.2 665.6 92.3 666.1 101 666.1C109.7 666 118.5 666.1 130 665.1C141.5 664.1 150 663.1 170 660.2C190 657.4 221.7 649.9 250 647.8C278.3 645.7 308.3 645.1 340 647.8C371.7 650.5 410 657.9 440 664C470 670.1 493.3 675.1 520 684.6C546.7 694.1 576.7 706.2 600 720.8C623.3 735.4 641.3 751.8 660 772C678.7 792.2 703.3 830.5 712 842.2"/>
<path d="M-6 654.6C-3.7 655.5 3.8 658.5 8 660C12.2 661.5 13.8 662.4 19 663.5C24.2 664.6 32.5 665.8 39 666.7C45.5 667.5 51.5 668.1 58 668.5C64.5 668.9 70.8 669 78 669.2C85.2 669.4 92.3 669.9 101 669.9C109.7 669.8 118.5 669.8 130 668.9C141.5 667.9 150 666.9 170 664.1C190 661.2 221.7 653.8 250 651.9C278.3 649.9 308.3 649.3 340 652.1C371.7 654.9 410 662.3 440 668.5C470 674.7 493.3 679.7 520 689.2C546.7 698.7 576.7 711 600 725.6C623.3 740.2 641.3 756.7 660 777C678.7 797.3 703.3 835.7 712 847.4"/>
<path d="M-6 660.4C-3.7 661.2 3.8 663.7 8 665C12.2 666.3 13.8 667.1 19 668C24.2 669 32.5 670.1 39 670.8C45.5 671.6 51.5 672.1 58 672.5C64.5 672.8 70.8 672.8 78 673C85.2 673.2 92.3 673.7 101 673.6C109.7 673.6 118.5 673.6 130 672.6C141.5 671.7 150 670.7 170 667.9C190 665.1 221.7 657.8 250 655.9C278.3 654 308.3 653.5 340 656.4C371.7 659.2 410 666.8 440 673C470 679.2 493.3 684.2 520 693.8C546.7 703.4 576.7 715.7 600 730.4C623.3 745.1 641.3 761.6 660 782C678.7 802.4 703.3 840.8 712 852.6"/>
<path d="M-6 666.2C-3.7 666.8 3.8 668.9 8 670C12.2 671.1 13.8 671.8 19 672.6C24.2 673.5 32.5 674.4 39 675C45.5 675.7 51.5 676.1 58 676.4C64.5 676.7 70.8 676.7 78 676.9C85.2 677 92.3 677.5 101 677.4C109.7 677.3 118.5 677.4 130 676.4C141.5 675.5 150 674.5 170 671.8C190 669 221.7 661.8 250 660C278.3 658.1 308.3 657.8 340 660.7C371.7 663.6 410 671.2 440 677.5C470 683.8 493.3 688.8 520 698.4C546.7 708 576.7 720.4 600 735.2C623.3 750 641.3 766.6 660 787C678.7 807.4 703.3 846 712 857.8"/>
<path d="M-6 672C-3.7 672.5 3.8 674.1 8 675C12.2 675.9 13.8 676.5 19 677.2C24.2 677.9 32.5 678.7 39 679.2C45.5 679.7 51.5 680.1 58 680.4C64.5 680.6 70.8 680.6 78 680.7C85.2 680.8 92.3 681.3 101 681.2C109.7 681.1 118.5 681.1 130 680.2C141.5 679.3 150 678.3 170 675.6C190 672.9 221.7 665.8 250 664C278.3 662.2 308.3 662 340 665C371.7 668 410 675.7 440 682C470 688.3 493.3 693.3 520 703C546.7 712.7 576.7 725.2 600 740C623.3 754.8 641.3 771.5 660 792C678.7 812.5 703.3 851.2 712 863"/>
<path d="M-6 677.8C-3.7 678.2 3.8 679.3 8 680C12.2 680.7 13.8 681.2 19 681.8C24.2 682.3 32.5 683 39 683.4C45.5 683.8 51.5 684.2 58 684.4C64.5 684.6 70.8 684.4 78 684.5C85.2 684.6 92.3 685.1 101 685C109.7 684.9 118.5 684.9 130 684C141.5 683.1 150 682.1 170 679.4C190 676.8 221.7 669.7 250 668C278.3 666.4 308.3 666.2 340 669.3C371.7 672.4 410 680.1 440 686.5C470 692.9 493.3 697.9 520 707.6C546.7 717.3 576.7 729.9 600 744.8C623.3 759.7 641.3 776.4 660 797C678.7 817.6 703.3 856.3 712 868.2"/>
<path d="M-6 683.6C-3.7 683.8 3.8 684.5 8 685C12.2 685.5 13.8 685.9 19 686.4C24.2 686.8 32.5 687.2 39 687.6C45.5 687.9 51.5 688.2 58 688.3C64.5 688.5 70.8 688.3 78 688.4C85.2 688.4 92.3 688.9 101 688.8C109.7 688.7 118.5 688.7 130 687.8C141.5 686.8 150 685.9 170 683.3C190 680.7 221.7 673.7 250 672.1C278.3 670.5 308.3 670.5 340 673.6C371.7 676.8 410 684.6 440 691C470 697.4 493.3 702.4 520 712.2C546.7 722 576.7 734.6 600 749.6C623.3 764.6 641.3 781.4 660 802C678.7 822.6 703.3 861.5 712 873.4"/>
<path d="M-6 689.4C-3.7 689.5 3.8 689.7 8 690C12.2 690.3 13.8 690.7 19 690.9C24.2 691.2 32.5 691.5 39 691.7C45.5 692 51.5 692.2 58 692.3C64.5 692.4 70.8 692.1 78 692.2C85.2 692.2 92.3 692.6 101 692.5C109.7 692.4 118.5 692.4 130 691.5C141.5 690.6 150 689.7 170 687.1C190 684.6 221.7 677.7 250 676.1C278.3 674.6 308.3 674.7 340 677.9C371.7 681.1 410 689 440 695.5C470 702 493.3 707 520 716.8C546.7 726.6 576.7 739.4 600 754.4C623.3 769.4 641.3 786.3 660 807C678.7 827.7 703.3 866.7 712 878.6"/>
<path d="M-6 695.2C-3.7 695.2 3.8 694.9 8 695C12.2 695.1 13.8 695.4 19 695.5C24.2 695.7 32.5 695.8 39 695.9C45.5 696 51.5 696.2 58 696.2C64.5 696.3 70.8 696 78 696C85.2 696 92.3 696.4 101 696.3C109.7 696.2 118.5 696.2 130 695.3C141.5 694.4 150 693.5 170 691C190 688.4 221.7 681.7 250 680.2C278.3 678.7 308.3 678.9 340 682.2C371.7 685.5 410 693.5 440 700C470 706.5 493.3 711.5 520 721.4C546.7 731.3 576.7 744.1 600 759.2C623.3 774.3 641.3 791.2 660 812C678.7 832.8 703.3 871.8 712 883.8"/>
<path d="M-6 701C-3.7 700.8 3.8 700.1 8 700C12.2 699.9 13.8 700.1 19 700.1C24.2 700.1 32.5 700.1 39 700.1C45.5 700.1 51.5 700.2 58 700.2C64.5 700.2 70.8 699.9 78 699.9C85.2 699.8 92.3 700.2 101 700.1C109.7 700 118.5 700 130 699.1C141.5 698.2 150 697.3 170 694.8C190 692.3 221.7 685.6 250 684.2C278.3 682.9 308.3 683.1 340 686.5C371.7 689.9 410 697.9 440 704.5C470 711.1 493.3 716.1 520 726C546.7 735.9 576.7 748.8 600 764C623.3 779.2 641.3 796.2 660 817C678.7 837.8 703.3 877 712 889"/>
<path d="M-6 706.8C-3.7 706.5 3.8 705.4 8 705C12.2 704.6 13.8 704.8 19 704.7C24.2 704.6 32.5 704.4 39 704.3C45.5 704.2 51.5 704.3 58 704.2C64.5 704.1 70.8 703.7 78 703.7C85.2 703.6 92.3 704 101 703.9C109.7 703.7 118.5 703.8 130 702.9C141.5 702 150 701.1 170 698.6C190 696.2 221.7 689.6 250 688.3C278.3 687 308.3 687.3 340 690.8C371.7 694.2 410 702.4 440 709C470 715.6 493.3 720.6 520 730.6C546.7 740.6 576.7 753.6 600 768.8C623.3 784 641.3 801.1 660 822C678.7 842.9 703.3 882.2 712 894.2"/>
<path d="M-6 712.6C-3.7 712.2 3.8 710.6 8 710C12.2 709.4 13.8 709.5 19 709.3C24.2 709 32.5 708.7 39 708.5C45.5 708.3 51.5 708.3 58 708.1C64.5 708 70.8 707.6 78 707.5C85.2 707.4 92.3 707.8 101 707.7C109.7 707.5 118.5 707.5 130 706.7C141.5 705.8 150 704.9 170 702.5C190 700.1 221.7 693.6 250 692.4C278.3 691.1 308.3 691.6 340 695.1C371.7 698.6 410 706.8 440 713.5C470 720.2 493.3 725.2 520 735.2C546.7 745.2 576.7 758.3 600 773.6C623.3 788.9 641.3 806 660 827C678.7 848 703.3 887.3 712 899.4"/>
<path d="M-6 718.4C-3.7 717.8 3.8 715.8 8 715C12.2 714.2 13.8 714.2 19 713.8C24.2 713.4 32.5 712.9 39 712.6C45.5 712.3 51.5 712.3 58 712.1C64.5 711.9 70.8 711.4 78 711.3C85.2 711.2 92.3 711.6 101 711.4C109.7 711.3 118.5 711.3 130 710.4C141.5 709.6 150 708.7 170 706.3C190 704 221.7 697.6 250 696.4C278.3 695.2 308.3 695.8 340 699.4C371.7 703 410 711.3 440 718C470 724.7 493.3 729.7 520 739.8C546.7 749.9 576.7 763 600 778.4C623.3 793.8 641.3 811 660 832C678.7 853 703.3 892.5 712 904.6"/>
<path d="M-6 724.2C-3.7 723.5 3.8 721 8 720C12.2 719 13.8 719 19 718.4C24.2 717.9 32.5 717.2 39 716.8C45.5 716.4 51.5 716.3 58 716C64.5 715.8 70.8 715.3 78 715.2C85.2 715 92.3 715.4 101 715.2C109.7 715.1 118.5 715.1 130 714.2C141.5 713.4 150 712.5 170 710.2C190 707.9 221.7 701.5 250 700.5C278.3 699.4 308.3 700 340 703.7C371.7 707.4 410 715.7 440 722.5C470 729.3 493.3 734.3 520 744.4C546.7 754.5 576.7 767.8 600 783.2C623.3 798.6 641.3 815.9 660 837C678.7 858.1 703.3 897.7 712 909.8"/>
<path d="M-6 730C-3.7 729.2 3.8 726.2 8 725C12.2 723.8 13.8 723.7 19 723C24.2 722.3 32.5 721.5 39 721C45.5 720.5 51.5 720.3 58 720C64.5 719.7 70.8 719.2 78 719C85.2 718.8 92.3 719.2 101 719C109.7 718.8 118.5 718.8 130 718C141.5 717.2 150 716.2 170 714C190 711.8 221.7 705.5 250 704.5C278.3 703.5 308.3 704.2 340 708C371.7 711.8 410 720.2 440 727C470 733.8 493.3 738.8 520 749C546.7 759.2 576.7 772.5 600 788C623.3 803.5 641.3 820.8 660 842C678.7 863.2 703.3 902.8 712 915"/>
<path d="M-6 735.8C-3.7 734.8 3.8 731.4 8 730C12.2 728.6 13.8 728.4 19 727.6C24.2 726.8 32.5 725.8 39 725.2C45.5 724.6 51.5 724.4 58 724C64.5 723.6 70.8 723 78 722.8C85.2 722.6 92.3 723 101 722.8C109.7 722.6 118.5 722.6 130 721.8C141.5 721 150 720 170 717.8C190 715.6 221.7 709.5 250 708.5C278.3 707.6 308.3 708.5 340 712.3C371.7 716.1 410 724.6 440 731.5C470 738.4 493.3 743.4 520 753.6C546.7 763.8 576.7 777.2 600 792.8C623.3 808.4 641.3 825.8 660 847C678.7 868.2 703.3 908 712 920.2"/>
<path d="M-6 741.6C-3.7 740.5 3.8 736.6 8 735C12.2 733.4 13.8 733.1 19 732.2C24.2 731.2 32.5 730.1 39 729.4C45.5 728.7 51.5 728.4 58 727.9C64.5 727.5 70.8 726.9 78 726.7C85.2 726.4 92.3 726.7 101 726.6C109.7 726.4 118.5 726.4 130 725.6C141.5 724.7 150 723.8 170 721.7C190 719.5 221.7 713.4 250 712.6C278.3 711.8 308.3 712.7 340 716.6C371.7 720.5 410 729.1 440 736C470 742.9 493.3 747.9 520 758.2C546.7 768.5 576.7 782 600 797.6C623.3 813.2 641.3 830.7 660 852C678.7 873.3 703.3 913.2 712 925.4"/>
<path d="M-6 747.4C-3.7 746.2 3.8 741.8 8 740C12.2 738.2 13.8 737.8 19 736.7C24.2 735.7 32.5 734.3 39 733.5C45.5 732.7 51.5 732.4 58 731.9C64.5 731.4 70.8 730.7 78 730.5C85.2 730.2 92.3 730.5 101 730.3C109.7 730.1 118.5 730.1 130 729.3C141.5 728.5 150 727.6 170 725.5C190 723.4 221.7 717.4 250 716.6C278.3 715.9 308.3 716.9 340 720.9C371.7 724.9 410 733.5 440 740.5C470 747.5 493.3 752.5 520 762.8C546.7 773.1 576.7 786.7 600 802.4C623.3 818.1 641.3 835.6 660 857C678.7 878.4 703.3 918.3 712 930.6"/>
<path d="M-6 753.2C-3.7 751.8 3.8 747 8 745C12.2 743 13.8 742.5 19 741.3C24.2 740.1 32.5 738.6 39 737.7C45.5 736.8 51.5 736.4 58 735.8C64.5 735.3 70.8 734.6 78 734.3C85.2 734 92.3 734.3 101 734.1C109.7 733.9 118.5 733.9 130 733.1C141.5 732.3 150 731.4 170 729.4C190 727.3 221.7 721.4 250 720.7C278.3 720 308.3 721.2 340 725.2C371.7 729.2 410 738 440 745C470 752 493.3 757 520 767.4C546.7 777.8 576.7 791.4 600 807.2C623.3 823 641.3 840.6 660 862C678.7 883.4 703.3 923.5 712 935.8"/>
<path d="M-6 759C-3.7 757.5 3.8 752.2 8 750C12.2 747.8 13.8 747.2 19 745.9C24.2 744.5 32.5 742.9 39 741.9C45.5 740.9 51.5 740.4 58 739.8C64.5 739.2 70.8 738.5 78 738.1C85.2 737.8 92.3 738.1 101 737.9C109.7 737.7 118.5 737.7 130 736.9C141.5 736.1 150 735.2 170 733.2C190 731.2 221.7 725.4 250 724.8C278.3 724.1 308.3 725.4 340 729.5C371.7 733.6 410 742.4 440 749.5C470 756.6 493.3 761.6 520 772C546.7 782.4 576.7 796.2 600 812C623.3 827.8 641.3 845.5 660 867C678.7 888.5 703.3 928.7 712 941"/>
<path d="M-6 764.8C-3.7 763.2 3.8 757.4 8 755C12.2 752.6 13.8 752 19 750.5C24.2 749 32.5 747.2 39 746.1C45.5 745 51.5 744.4 58 743.8C64.5 743.1 70.8 742.3 78 742C85.2 741.6 92.3 741.9 101 741.7C109.7 741.5 118.5 741.5 130 740.7C141.5 739.9 150 739 170 737C190 735.1 221.7 729.3 250 728.8C278.3 728.3 308.3 729.6 340 733.8C371.7 738 410 746.9 440 754C470 761.1 493.3 766.1 520 776.6C546.7 787.1 576.7 800.9 600 816.8C623.3 832.7 641.3 850.4 660 872C678.7 893.6 703.3 933.8 712 946.2"/>
<path d="M-6 770.6C-3.7 768.8 3.8 762.6 8 760C12.2 757.4 13.8 756.7 19 755.1C24.2 753.4 32.5 751.5 39 750.3C45.5 749 51.5 748.5 58 747.7C64.5 747 70.8 746.2 78 745.8C85.2 745.4 92.3 745.7 101 745.5C109.7 745.2 118.5 745.2 130 744.5C141.5 743.7 150 742.8 170 740.9C190 738.9 221.7 733.3 250 732.9C278.3 732.4 308.3 733.8 340 738.1C371.7 742.4 410 751.3 440 758.5C470 765.7 493.3 770.7 520 781.2C546.7 791.7 576.7 805.6 600 821.6C623.3 837.6 641.3 855.4 660 877C678.7 898.6 703.3 939 712 951.4"/>
<path d="M-6 776.4C-3.7 774.5 3.8 767.8 8 765C12.2 762.2 13.8 761.4 19 759.6C24.2 757.9 32.5 755.8 39 754.4C45.5 753.1 51.5 752.5 58 751.7C64.5 750.9 70.8 750 78 749.6C85.2 749.2 92.3 749.5 101 749.2C109.7 749 118.5 749 130 748.2C141.5 747.5 150 746.6 170 744.7C190 742.8 221.7 737.3 250 736.9C278.3 736.5 308.3 738 340 742.4C371.7 746.8 410 755.8 440 763C470 770.2 493.3 775.2 520 785.8C546.7 796.4 576.7 810.4 600 826.4C623.3 842.4 641.3 860.3 660 882C678.7 903.7 703.3 944.2 712 956.6"/>
<path d="M-6 782.2C-3.7 780.2 3.8 773 8 770C12.2 767 13.8 766.1 19 764.2C24.2 762.3 32.5 760 39 758.6C45.5 757.2 51.5 756.5 58 755.6C64.5 754.8 70.8 753.9 78 753.5C85.2 753 92.3 753.3 101 753C109.7 752.8 118.5 752.8 130 752C141.5 751.3 150 750.4 170 748.6C190 746.7 221.7 741.3 250 741C278.3 740.6 308.3 742.3 340 746.7C371.7 751.1 410 760.2 440 767.5C470 774.8 493.3 779.8 520 790.4C546.7 801 576.7 815.1 600 831.2C623.3 847.3 641.3 865.2 660 887C678.7 908.8 703.3 949.3 712 961.8"/>
</g>
</svg>

<div class="abs t1">How to Achieve</div>
<div class="abs t2">Superior Retail Last-mile Deliveries</div>
<div class="abs sub">Simultaneously reduce delivery costs while enhancing consumer experiences</div>

<div class="abs kh"><span style="letter-spacing:0.25px">Last-Mile Delivery KPIs Retailers are Most</span><br>Focused on Improving</div>

<!-- bars -->
<svg id="bars" width="1280" height="720" viewBox="0 0 1280 720" shape-rendering="geometricPrecision">
  <rect x="113" y="270" width="59" height="307.1" fill="#ff7b65"/>
  <rect x="247" y="280.7" width="59" height="296.4" fill="#ff7b65"/>
  <rect x="381" y="326.5" width="59" height="250.6" fill="#aec8cf"/>
  <rect x="515" y="370.7" width="59" height="206.4" fill="#aec8cf"/>
  <rect x="649" y="378" width="59" height="199.1" fill="#aec8cf"/>
  <rect x="783" y="428" width="59" height="149.1" fill="#aec8cf"/>
  <rect x="917" y="437.4" width="59" height="139.7" fill="#aec8cf"/>
  <rect x="1051" y="455" width="59" height="122.1" fill="#aec8cf"/>
  <rect x="81.5" y="577.9" width="1066.3" height="1.1" fill="#373f3f"/>
</svg>

<!-- values -->
<div class="val" style="left:81.65px; top:239.35px;">55%</div>
<div class="val" style="left:216.6px; top:249.7px;">53%</div>
<div class="val" style="left:350.9px; top:295.6px;">45%</div>
<div class="val" style="left:484.45px; top:339.7px;">37%</div>
<div class="val" style="left:618.55px; top:346.8px;">36%</div>
<div class="val" style="left:751.75px; top:396.8px;">27%</div>
<div class="val" style="left:885.55px; top:406.2px;">25%</div>
<div class="val" style="left:1021.7px; top:423.7px;">22%</div>

<!-- categories -->
<div class="cl" style="left:109.50px; top:589.60px; letter-spacing:0.212px;">Cost per</div>
<div class="cl" style="left:111.60px; top:608.60px; letter-spacing:0.320px;">delivery</div>
<div class="cl" style="left:240.80px; top:589.60px; letter-spacing:0.384px;">Customer</div>
<div class="cl" style="left:234.00px; top:608.60px; letter-spacing:0.562px;">satisfaction</div>
<div class="cl" style="left:379.50px; top:589.60px; letter-spacing:0.918px;">On-time</div>
<div class="cl" style="left:364.60px; top:608.60px; letter-spacing:0.524px;">delivery rate</div>
<div class="cl" style="left:499.30px; top:589.60px; letter-spacing:0.443px;">Visibility and</div>
<div class="cl" style="left:515.00px; top:608.60px; letter-spacing:0.707px;">tracking</div>
<div class="cl" style="left:649.20px; top:589.60px; letter-spacing:0.285px;">Average</div>
<div class="cl" style="left:632.90px; top:608.60px; letter-spacing:0.437px;">delivery time</div>
<div class="cl" style="left:764.40px; top:589.60px; letter-spacing:0.363px;">Sustainability</div>
<div class="cl" style="left:918.50px; top:589.60px; letter-spacing:0.098px;">Returns</div>
<div class="cl" style="left:1049.60px; top:589.60px; letter-spacing:0.519px;">Capacity</div>
<div class="cl" style="left:1045.60px; top:608.60px; letter-spacing:0.724px;">utilization</div>

<div class="foot">
<span style="left:89.50px; letter-spacing:0.186px;">FarEye</span>
<span style="left:133.70px; letter-spacing:0.090px;">Retail</span>
<span style="left:170.80px; letter-spacing:0.220px;">and</span>
<span style="left:195.40px; letter-spacing:0.115px;">Logistics</span>
<span style="left:251.10px; letter-spacing:-0.299px;">Survey.</span>
<span style="left:295.60px; letter-spacing:0.109px;">November</span>
<span style="left:361.40px; letter-spacing:-0.330px;">2022.</span>
<span style="left:397.70px; letter-spacing:-0.495px;">n=194</span>
<span style="left:435.80px; letter-spacing:-0.017px;">retailers</span>
<span style="left:485.20px; letter-spacing:-0.288px;">in</span>
<span style="left:498.90px; letter-spacing:-0.257px;">U.S,</span>
<span style="left:525.80px; letter-spacing:-0.624px;">EMEA</span>
<span style="left:565.50px; letter-spacing:-0.130px;">and</span>
<span style="left:591.10px; letter-spacing:-0.784px;">APAC.</span>
</div>

<!-- stars -->
<svg id="stars" width="1280" height="720" viewBox="0 0 1280 720">
  <g id="star1" transform="translate(141.25 548.5)">
    <polygon fill="#ffffff" points="0,-24.2 7.35,-10.1 23,-7.5 11.9,3.9 14.2,19.6 0,12.7 -14.2,19.6 -11.9,3.9 -23,-7.5 -7.35,-10.1"/>
  </g>
  <path d="M135.5 541.9 L138.6 541.2 H141.7 V554.5 H138.7 V544.1 H135.5 Z" fill="#1a41b6"/>
  <g id="star2" transform="translate(276.2 548.5)">
    <polygon fill="#ffffff" points="0,-24.2 7.35,-10.1 23,-7.5 11.9,3.9 14.2,19.6 0,12.7 -14.2,19.6 -11.9,3.9 -23,-7.5 -7.35,-10.1"/>
  </g>
</svg>
<div class="abs" style="left:256px; top:537px; width:40px; text-align:center; font-weight:bold; font-size:18.5px; line-height:22px; color:#1a41b6; -webkit-text-stroke:0.3px #1a41b6;">2</div>

<!-- logo -->
<svg id="logo" width="1280" height="720" viewBox="0 0 1280 720">
  <!-- pin -->
  <path d="M1079.3 108.7 L1062.5 87 A19 19 0 1 1 1093.5 87 Z" fill="#1c3a4d"/>
  <!-- telescope body (negative space) -->
  <path d="M1085.7 67.4 L1061.9 87.6 L1057.4 91.6 L1060 95.6 L1068.1 93.3 L1095.3 83.6 Z" fill="#fde1d8"/>
  <!-- eyepiece outline outside the pin -->
  <path d="M1063 86.8 L1058 91.2 M1067.5 93.6 L1060.6 95.5" stroke="#1c3a4d" stroke-width="1.1" fill="none" stroke-linecap="round"/>
  <circle cx="1058.9" cy="93.1" r="2.5" fill="#1c3a4d"/>
  <!-- section arcs -->
  <path d="M1077.3 75.6 C1073.6 79.5 1074.6 85 1079.2 88.4" stroke="#1c3a4d" stroke-width="1" fill="none"/>
  <path d="M1066.5 85.4 C1065.6 88.3 1067.2 91 1069.6 92.2" stroke="#1c3a4d" stroke-width="1" fill="none"/>
  <!-- lens ring -->
  <g transform="translate(1098.3 70.7) rotate(-29.5)">
    <ellipse cx="0" cy="0" rx="8.7" ry="11.7" fill="#1c3a4d"/>
    <ellipse cx="-0.2" cy="0.3" rx="5.5" ry="8" fill="#fde1d8"/>
  </g>
  <path d="M1093.2 69.2 L1102.6 74.4 M1096.2 65.8 L1099.4 67.3" stroke="#1c3a4d" stroke-width="1" fill="none" stroke-linecap="round"/>
</svg>
<div class="abs logo-t">FarEye</div>

</div>
</body>
</html>
